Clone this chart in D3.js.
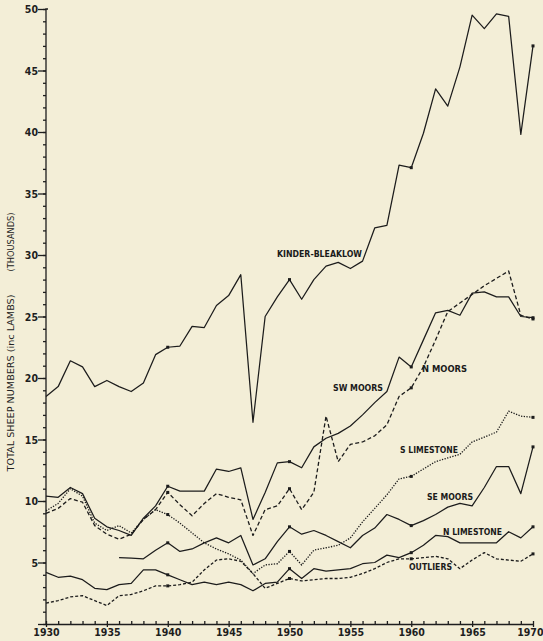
<!DOCTYPE html>
<html>
<head>
<meta charset="utf-8">
<title>Total sheep numbers 1930-1970</title>
<script src="https://d3js.org/d3.v7.min.js"></script>
<style>
  body { margin: 0; background: #f3eed7; }
  svg { display: block; }
  .axis text { font-family: "DejaVu Sans Condensed", "DejaVu Sans", sans-serif; font-weight: bold; font-size: 10.5px; fill: #1e1e1e; }
  .axis path, .axis line { stroke: #1e1e1e; stroke-width: 1.3; }
  .lbl { font-family: "DejaVu Sans Condensed", "DejaVu Sans", sans-serif; font-weight: bold; font-size: 8.5px; fill: #1a1a1a; }
  .ytitle { font-family: "DejaVu Sans", sans-serif; font-size: 9.5px; fill: #222; }
</style>
</head>
<body>
<svg width="543" height="641"></svg>
<script>
// ---- data (thousands of sheep incl. lambs) ----
var years = d3.range(1930, 1971);            // 1930 .. 1970
var seYears = d3.range(1936, 1971);          // SE Moors starts 1936

var kinderBleaklow = [18.5, 19.3, 21.4, 20.9, 19.3, 19.8, 19.3, 18.9, 19.6, 21.9,
  22.5, 22.6, 24.2, 24.1, 25.9, 26.7, 28.4, 16.4, 25.0, 26.6,
  28.0, 26.4, 28.0, 29.1, 29.4, 28.9, 29.5, 32.2, 32.4, 37.3,
  37.1, 39.9, 43.5, 42.1, 45.3, 49.5, 48.4, 49.6, 49.4, 39.8, 47.0];

var swMoors = [10.4, 10.3, 11.1, 10.6, 8.6, 7.9, 7.6, 7.2, 8.6, 9.6,
  11.2, 10.8, 10.8, 10.8, 12.6, 12.4, 12.7, 8.5, 10.7, 13.1,
  13.2, 12.7, 14.4, 15.1, 15.5, 16.1, 17.0, 18.0, 18.9, 21.7,
  20.9, 23.1, 25.3, 25.5, 25.1, 26.9, 27.0, 26.6, 26.6, 25.0, 24.9];

var nMoors = [9.0, 9.4, 10.2, 9.9, 8.0, 7.3, 6.9, 7.3, 8.5, 9.3,
  10.7, 9.7, 8.8, 9.8, 10.6, 10.3, 10.1, 7.2, 9.3, 9.6,
  11.0, 9.3, 10.7, 16.9, 13.2, 14.6, 14.8, 15.3, 16.2, 18.5,
  19.2, 20.9, 23.1, 25.4, 26.1, 26.8, 27.5, 28.1, 28.7, 25.1, 24.8];

var sLimestone = [9.2, 9.8, 11.0, 10.4, 8.2, 7.6, 8.0, 7.4, 8.5, 9.3,
  8.9, 8.2, 7.4, 6.6, 6.1, 5.7, 5.2, 4.1, 4.8, 4.9,
  5.9, 4.8, 6.0, 6.2, 6.4, 7.0, 8.3, 9.4, 10.5, 11.8,
  12.0, 12.6, 13.2, 13.5, 13.8, 14.8, 15.2, 15.6, 17.3, 16.9, 16.8];

var seMoors = [5.4, 5.35, 5.3, 6.0, 6.6, 5.9, 6.1, 6.6, 7.0, 6.6,
  7.2, 4.8, 5.3, 6.7, 7.9, 7.3, 7.6, 7.2, 6.7, 6.2,
  7.2, 7.8, 8.9, 8.5, 8.0, 8.4, 8.9, 9.5, 9.8, 9.6,
  11.1, 12.8, 12.8, 10.6, 14.4];

var nLimestone = [4.2, 3.8, 3.9, 3.6, 2.9, 2.8, 3.2, 3.3, 4.4, 4.4,
  4.0, 3.6, 3.2, 3.4, 3.2, 3.4, 3.2, 2.7, 3.3, 3.4,
  4.5, 3.7, 4.5, 4.3, 4.4, 4.5, 4.9, 5.0, 5.6, 5.4,
  5.8, 6.4, 7.2, 7.1, 6.6, 6.6, 6.6, 6.6, 7.5, 7.0, 7.9];

var outliers = [1.7, 1.9, 2.2, 2.3, 1.9, 1.5, 2.3, 2.4, 2.7, 3.1,
  3.1, 3.2, 3.4, 4.4, 5.2, 5.3, 5.1, 4.1, 2.9, 3.3,
  3.7, 3.5, 3.6, 3.7, 3.7, 3.8, 4.1, 4.5, 5.0, 5.3,
  5.3, 5.4, 5.5, 5.3, 4.5, 5.2, 5.8, 5.3, 5.2, 5.1, 5.7];

var markerYears = [1940, 1950, 1960, 1970];
var yTicks = d3.range(0, 51, 5);
var xTicks = d3.range(1930, 1971, 5);

// ---- drawing ----
var svg = d3.select("svg");

var x = d3.scaleLinear().domain([1930, 1970]).range([46, 533]);
var y = d3.scaleLinear().domain([0, 50]).range([624, 9]);

var series = [
  { name: "KINDER-BLEAKLOW", yrs: years,   vals: kinderBleaklow, dash: null },
  { name: "SW MOORS",        yrs: years,   vals: swMoors,        dash: null },
  { name: "N MOORS",         yrs: years,   vals: nMoors,         dash: "4,2.5" },
  { name: "S LIMESTONE",     yrs: years,   vals: sLimestone,     dash: "1.3,1.4" },
  { name: "SE MOORS",        yrs: seYears, vals: seMoors,        dash: null },
  { name: "N LIMESTONE",     yrs: years,   vals: nLimestone,     dash: null },
  { name: "OUTLIERS",        yrs: years,   vals: outliers,       dash: "3,2" }
];

// label placement (layout, not data)
var labelPos = {
  "KINDER-BLEAKLOW": [277, 257, 85],
  "SW MOORS":        [333, 391, 50],
  "N MOORS":         [422, 372, 45],
  "S LIMESTONE":     [400, 453, 58],
  "SE MOORS":        [427, 500, 46],
  "N LIMESTONE":     [443, 535, 59],
  "OUTLIERS":        [409, 570, 43]
};

// y axis: minor ticks each unit, major every 5
svg.append("g")
    .attr("class", "axis")
    .attr("transform", "translate(46,0)")
    .call(d3.axisLeft(y).tickValues(d3.range(0, 51, 1)).tickSize(3).tickFormat(""))
  .select(".domain").remove();

var yAx = svg.append("g")
    .attr("class", "axis")
    .attr("transform", "translate(46,0)")
    .call(d3.axisLeft(y).tickValues(yTicks).tickSize(8).tickSizeOuter(0)
      .tickFormat(function(d) { return d === 0 ? "" : d; }));
yAx.selectAll(".tick text").attr("x", -8).attr("dy", "0.35em");
yAx.select(".domain").attr("d", "M0," + y(0) + "V" + y(50) + "h2");

// x axis
svg.append("g")
    .attr("class", "axis")
    .attr("transform", "translate(0,624)")
    .call(d3.axisTop(x).tickValues(years).tickSize(3).tickFormat(""))
  .select(".domain").remove();

var xAx = svg.append("g")
    .attr("class", "axis")
    .attr("transform", "translate(0,624)")
    .call(d3.axisBottom(x).tickValues(xTicks).tickSize(3).tickSizeOuter(0)
      .tickFormat(d3.format("d")));
xAx.selectAll(".tick text").attr("y", 5);
// last label sits against the right edge
xAx.selectAll(".tick text")
    .filter(function(d) { return d === 1970; })
    .attr("text-anchor", "end")
    .attr("x", 10);

// y axis title
svg.append("text")
    .attr("class", "ytitle")
    .attr("transform", "translate(13.5,383) rotate(-90)")
    .attr("text-anchor", "middle")
    .attr("textLength", 177)
    .attr("lengthAdjust", "spacingAndGlyphs")
    .text("TOTAL SHEEP NUMBERS (inc LAMBS)");
svg.append("text")
    .attr("class", "ytitle")
    .attr("transform", "translate(13.5,242) rotate(-90)")
    .attr("text-anchor", "middle")
    .attr("textLength", 59)
    .attr("lengthAdjust", "spacingAndGlyphs")
    .text("(THOUSANDS)");

// lines
var line = d3.line()
    .x(function(d) { return x(d[0]); })
    .y(function(d) { return y(d[1]); });

series.forEach(function(s) {
  var pts = s.yrs.map(function(yr, i) { return [yr, s.vals[i]]; });
  svg.append("path")
      .datum(pts)
      .attr("fill", "none")
      .attr("stroke", "#1c1c1c")
      .attr("stroke-width", s.dash ? 1.3 : 1.25)
      .attr("stroke-linejoin", "round")
      .attr("stroke-dasharray", s.dash)
      .attr("d", line);

  // small marks at the decade points
  svg.append("g").selectAll("rect")
      .data(pts.filter(function(d) { return markerYears.indexOf(d[0]) >= 0; }))
      .enter().append("rect")
      .attr("x", function(d) { return x(d[0]) - 1.5; })
      .attr("y", function(d) { return y(d[1]) - 1.5; })
      .attr("width", 3)
      .attr("height", 3)
      .attr("fill", "#1c1c1c");

  var p = labelPos[s.name];
  svg.append("text")
      .attr("class", "lbl")
      .attr("x", p[0])
      .attr("y", p[1])
      .attr("textLength", p[2])
      .attr("lengthAdjust", "spacingAndGlyphs")
      .text(s.name);
});
</script>
</body>
</html>
